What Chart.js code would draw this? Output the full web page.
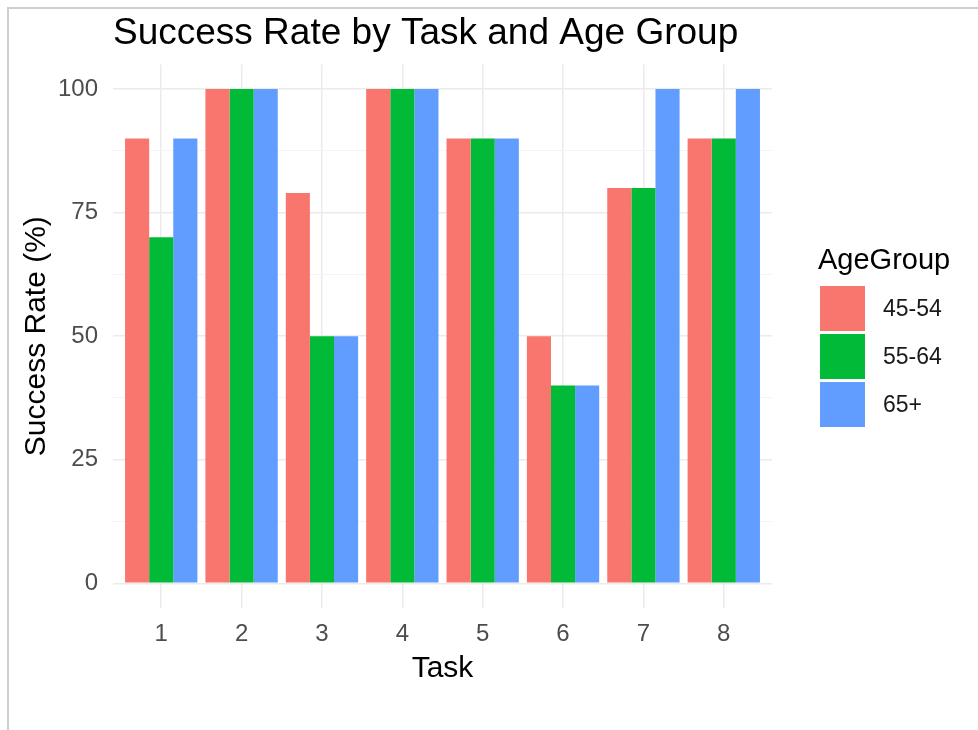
<!DOCTYPE html>
<html>
<head>
<meta charset="utf-8">
<script src="https://cdn.jsdelivr.net/npm/chart.js@4.4.0/dist/chart.umd.min.js"></script>
<style>
  body { margin: 0; background: #fff; font-family: "Liberation Sans", Arial, sans-serif; }
  #wrap { position: relative; width: 978px; height: 730px; }
  #frame { position: absolute; left: 7px; top: 7px; right: 0; bottom: 0;
           border-left: 2px solid #cfcfcf; border-top: 2px solid #cfcfcf; }
  #legend { position: absolute; left: 818px; top: 240px; }
  #legend .ttl { font-size: 29px; color: #000; height: 44px; line-height: 38px; }
  #legend .row { display: flex; align-items: center; height: 48px; }
  #legend .box { width: 45px; height: 45px; margin-left: 2px; }
  #legend .lbl { font-size: 23px; color: #1a1a1a; margin-left: 18px; }
</style>
</head>
<body>
<div id="wrap">
  <canvas id="chart" width="978" height="730"></canvas>
  <div id="frame"></div>
  <div id="legend"></div>
</div>
<script>
const tasks = [1, 2, 3, 4, 5, 6, 7, 8];
const ageGroups = ['45-54', '55-64', '65+'];
const rate4554 = [90, 100, 79, 100, 90, 50, 80, 90];
const rate5564 = [70, 100, 50, 100, 90, 40, 80, 90];
const rate65 = [90, 100, 50, 100, 90, 40, 100, 100];
const yTicks = [0, 25, 50, 75, 100];
const yMinor = [12.5, 37.5, 62.5, 87.5];
const colors = ['#F8766D', '#00BA38', '#619CFF'];

const seriesList = [rate4554, rate5564, rate65];

const datasets = seriesList.map((vals, i) => ({
  label: ageGroups[i],
  data: tasks.map((t, j) => ({ x: t, y: vals[j] })),
  backgroundColor: colors[i],
  borderWidth: 0,
  categoryPercentage: 0.9,
  barPercentage: 1.0
}));

const ctx = document.getElementById('chart').getContext('2d');
const chart = new Chart(ctx, {
  type: 'bar',
  data: { datasets: datasets },
  options: {
    responsive: false,
    animation: false,
    layout: { padding: { left: 0, right: 206, top: 0, bottom: 0 } },
    plugins: {
      legend: { display: false },
      tooltip: { enabled: false },
      title: {
        display: true,
        text: 'Success Rate by Task and Age Group',
        align: 'start',
        fullSize: false,
        color: '#000',
        font: { family: 'Liberation Sans', size: 37, weight: 'normal' },
        padding: { top: 12, bottom: 8 }
      }
    },
    scales: {
      x: {
        type: 'linear',
        min: 0.4,
        max: 8.6,
        offset: false,
        afterBuildTicks: (axis) => { axis.ticks = tasks.map(v => ({ value: v })); },
        afterFit: (axis) => { axis.height = 122; },
        grid: { color: '#ebebeb', lineWidth: 1.5, drawTicks: false, offset: false },
        border: { display: false },
        ticks: {
          color: '#4d4d4d',
          padding: 12,
          font: { family: 'Liberation Sans', size: 24 },
          callback: (v) => String(v)
        },
        title: {
          display: true,
          text: 'Task',
          color: '#000',
          font: { family: 'Liberation Sans', size: 30 },
          padding: { top: 6, bottom: 43 }
        }
      },
      y: {
        min: -5,
        max: 105,
        afterBuildTicks: (axis) => {
          axis.ticks = yTicks.concat(yMinor).sort((a, b) => a - b).map(v => ({ value: v }));
        },
        afterFit: (axis) => { axis.width = 113; },
        grid: {
          drawTicks: false,
          color: (c) => yTicks.includes(c.tick.value) ? '#ebebeb' : '#f4f4f4',
          lineWidth: (c) => yTicks.includes(c.tick.value) ? 1.5 : 1
        },
        border: { display: false },
        ticks: {
          color: '#4d4d4d',
          padding: 15,
          font: { family: 'Liberation Sans', size: 24 },
          callback: (v) => yTicks.includes(v) ? String(v) : ''
        },
        title: {
          display: true,
          text: 'Success Rate (%)',
          color: '#000',
          font: { family: 'Liberation Sans', size: 30 },
          padding: { top: 19, bottom: 0 }
        }
      }
    }
  }
});

// legend built from the chart's datasets
const legend = document.getElementById('legend');
legend.innerHTML = '<div class="ttl">AgeGroup</div>' +
  chart.data.datasets.map(ds =>
    '<div class="row"><div class="box" style="background:' + ds.backgroundColor + '"></div>' +
    '<div class="lbl">' + ds.label + '</div></div>').join('');
</script>
</body>
</html>
